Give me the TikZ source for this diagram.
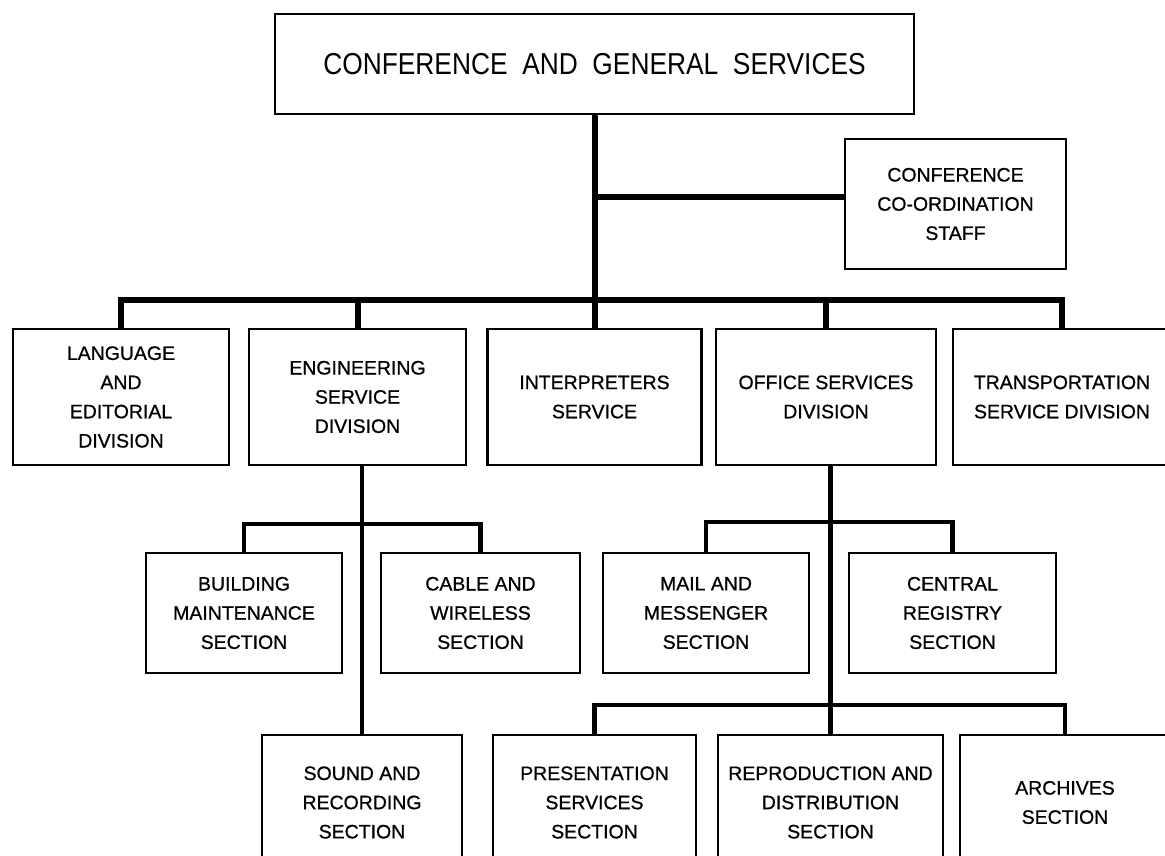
\documentclass[tikz,border=0pt]{standalone}
\usepackage{fontspec}
\setmainfont{Liberation Sans}
\newfontfamily\titlefont{Liberation Sans}[FakeStretch=0.87]
\newfontfamily\boxfont{Liberation Sans}[FakeBold=0.8]

\tikzset{every picture/.style={line width=0.75pt}}
\tikzset{
  unitbox/.style={draw, line width=1.6pt, align=center, inner sep=0pt,
    font=\boxfont\fontsize{14.6}{21.9}\selectfont},
  trunk/.style={line width=4.5pt, line join=miter},
  branch/.style={line width=3.4pt, line join=miter}
}

\begin{document}
\begin{tikzpicture}[x=0.75pt,y=0.75pt,yscale=-1,xscale=1]
    \useasboundingbox (0,0) rectangle (1165,856);

    %Head office
    \node [unitbox, minimum width=479.25pt, minimum height=75pt, font=\titlefont\fontsize{22.7}{27}\selectfont] (cgs) at (594.5,64) {CONFERENCE \ AND \ GENERAL \ SERVICES};
    \node [unitbox, minimum width=165.75pt, minimum height=97.5pt] (staff) at (955.5,204) {CONFERENCE\\CO-ORDINATION\\STAFF};

    %Divisions
    \node [unitbox, minimum width=162pt, minimum height=102pt] (lang) at (121,397) {LANGUAGE\\AND\\EDITORIAL\\DIVISION};
    \node [unitbox, minimum width=162.75pt, minimum height=102pt] (eng) at (357.5,397) {ENGINEERING\\SERVICE\\DIVISION};
    \node [unitbox, minimum width=160.5pt, minimum height=102pt] (interp) at (594.5,397) {INTERPRETERS\\SERVICE};
    \node [unitbox, minimum width=165pt, minimum height=102pt] (office) at (826,397) {OFFICE SERVICES\\DIVISION};
    \node [unitbox, minimum width=163.5pt, minimum height=102pt] (transp) at (1062,397) {TRANSPORTATION\\SERVICE DIVISION};

    %Sections
    \node [unitbox, minimum width=147pt, minimum height=90pt] (build) at (244,613) {BUILDING\\MAINTENANCE\\SECTION};
    \node [unitbox, minimum width=149.25pt, minimum height=90pt] (cable) at (480.5,613) {CABLE AND\\WIRELESS\\SECTION};
    \node [unitbox, minimum width=154.5pt, minimum height=90pt] (mail) at (706,613) {MAIL AND\\MESSENGER\\SECTION};
    \node [unitbox, minimum width=155.25pt, minimum height=90pt] (central) at (952.5,613) {CENTRAL\\REGISTRY\\SECTION};

    \node [unitbox, minimum width=150pt, minimum height=101.25pt] (sound) at (362,802.5) {SOUND AND\\RECORDING\\SECTION};
    \node [unitbox, minimum width=152.25pt, minimum height=101.25pt] (pres) at (594.5,802.5) {PRESENTATION\\SERVICES\\SECTION};
    \node [unitbox, minimum width=168.75pt, minimum height=101.25pt] (repro) at (830.5,802.5) {REPRODUCTION AND\\DISTRIBUTION\\SECTION};
    \node [unitbox, minimum width=157.5pt, minimum height=101.25pt] (arch) at (1065,802.5) {ARCHIVES\\SECTION};

    %Forks
    \coordinate (stafflink) at (594.5,197);
    \coordinate (bus) at (0,300);
    \coordinate (engfork) at (0,524);
    \coordinate (offfork) at (0,522);
    \coordinate (secfork) at (0,705);

    %Connectors
    \draw [trunk] (cgs.south) -- (cgs.south |- interp.north);
    \draw [trunk] (stafflink) -- (stafflink -| staff.west);
    \draw [trunk] (lang.north) -- (lang.north |- bus) -- (transp.north |- bus) -- (transp.north);
    \draw [trunk] (eng.north) -- (eng.north |- bus);
    \draw [trunk] (office.north) -- (office.north |- bus);

    \draw [branch] (eng.south -| sound.north) -- (sound.north);
    \draw [branch] (build.north) |- (cable.north |- engfork) -- (cable.north);

    \draw [branch] (office.south -| repro.north) -- (repro.north);
    \draw [branch] (mail.north) |- (central.north |- offfork) -- (central.north);
    \draw [branch] (pres.north) |- (arch.north |- secfork) -- (arch.north);

\end{tikzpicture}
\end{document}
